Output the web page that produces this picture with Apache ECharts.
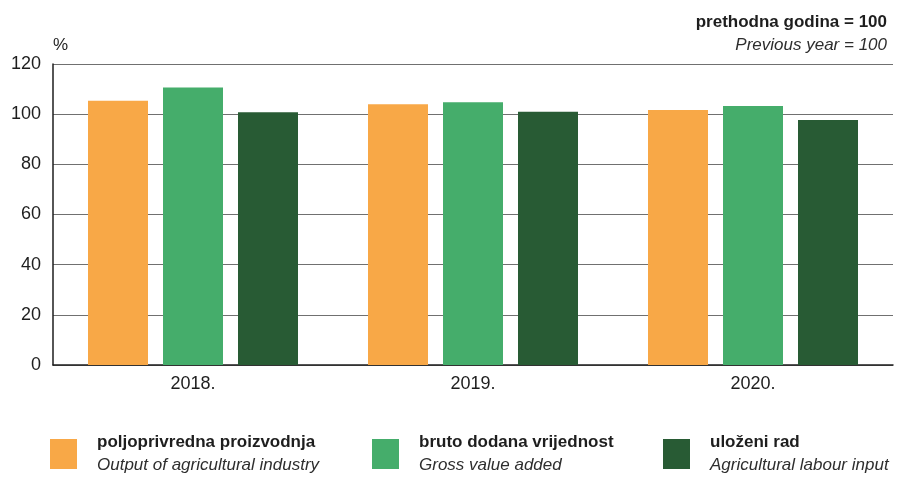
<!DOCTYPE html>
<html lang="hr">
<head>
	<meta charset="UTF-8">
	<script src="https://cdn.jsdelivr.net/npm/echarts@6.0.0/dist/echarts.min.js"></script>
	<title>Poljoprivreda</title>
	<style>
		html, body { margin: 0; padding: 0; background: #fff; }
	</style>
</head>
<body>
	<div id="chart" style="width: 897px;height:477px;"></div>

	<script>
		var years = ['2018.', '2019.', '2020.'];
		var seriesNames = ['poljoprivredna proizvodnja', 'bruto dodana vrijednost', 'uloženi rad'];
		var seriesNamesEn = ['Output of agricultural industry', 'Gross value added', 'Agricultural labour input'];
		var output = [105.3, 104.0, 101.7];
		var gva = [110.6, 104.8, 103.3];
		var labour = [100.8, 101.0, 97.7];
		var colors = ['#F8A847', '#45AD6B', '#285B34'];

		var font = '"Liberation Sans", Arial, sans-serif';
		var chart = echarts.init(document.getElementById('chart'));

		// one legend per series, each placed on its own
		var legendLeft = [50, 372, 663];
		var legends = seriesNames.map(function (name, i) {
			return {
				data: [name],
				left: legendLeft[i],
				top: 434,
				padding: 0,
				itemWidth: 27,
				itemHeight: 30,
				itemGap: 0,
				icon: 'rect',
				selectedMode: false,
				formatter: function (n) {
					return '{a|' + n + '}\n{b|' + seriesNamesEn[seriesNames.indexOf(n)] + '}';
				},
				textStyle: {
					padding: [0, 0, 0, 15],
					rich: {
						a: { fontFamily: font, fontSize: 17, fontWeight: 'bold', color: '#1e1e1e', lineHeight: 23 },
						b: { fontFamily: font, fontSize: 17, fontStyle: 'italic', color: '#2e2e2e', lineHeight: 23 }
					}
				}
			};
		});

		var data = [output, gva, labour];
		chart.setOption({
			color: colors,
			animation: false,
			textStyle: { fontFamily: font },
			grid: { left: 53, right: 4, top: 64, bottom: 112 },
			legend: legends,
			graphic: [
				{ type: 'text', right: 10, top: 14, style: { text: 'prethodna godina = 100', fontFamily: font, fontSize: 17, fontWeight: 'bold', fill: '#1e1e1e' } },
				{ type: 'text', right: 10, top: 37, style: { text: 'Previous year = 100', fontFamily: font, fontSize: 17, fontStyle: 'italic', fill: '#2e2e2e' } },
				{ type: 'text', left: 53, top: 37, style: { text: '%', fontFamily: font, fontSize: 17, fill: '#1e1e1e' } }
			],
			xAxis: {
				type: 'category',
				data: years,
				axisTick: { show: false },
				axisLine: { lineStyle: { color: '#1e1e1e', width: 1.5 } },
				axisLabel: { color: '#1e1e1e', fontSize: 18, margin: 10 }
			},
			yAxis: {
				type: 'value',
				min: 0,
				max: 120,
				interval: 20,
				axisLine: { show: true, lineStyle: { color: '#1e1e1e', width: 1.5 } },
				axisTick: { show: false },
				axisLabel: { color: '#1e1e1e', fontSize: 18, margin: 12 },
				splitLine: { lineStyle: { color: '#707070', width: 1.2 } }
			},
			series: seriesNames.map(function (name, i) {
				return {
					name: name,
					type: 'bar',
					data: data[i],
					barWidth: 60,
					barGap: '25%'
				};
			})
		});
	</script>
</body>
</html>
